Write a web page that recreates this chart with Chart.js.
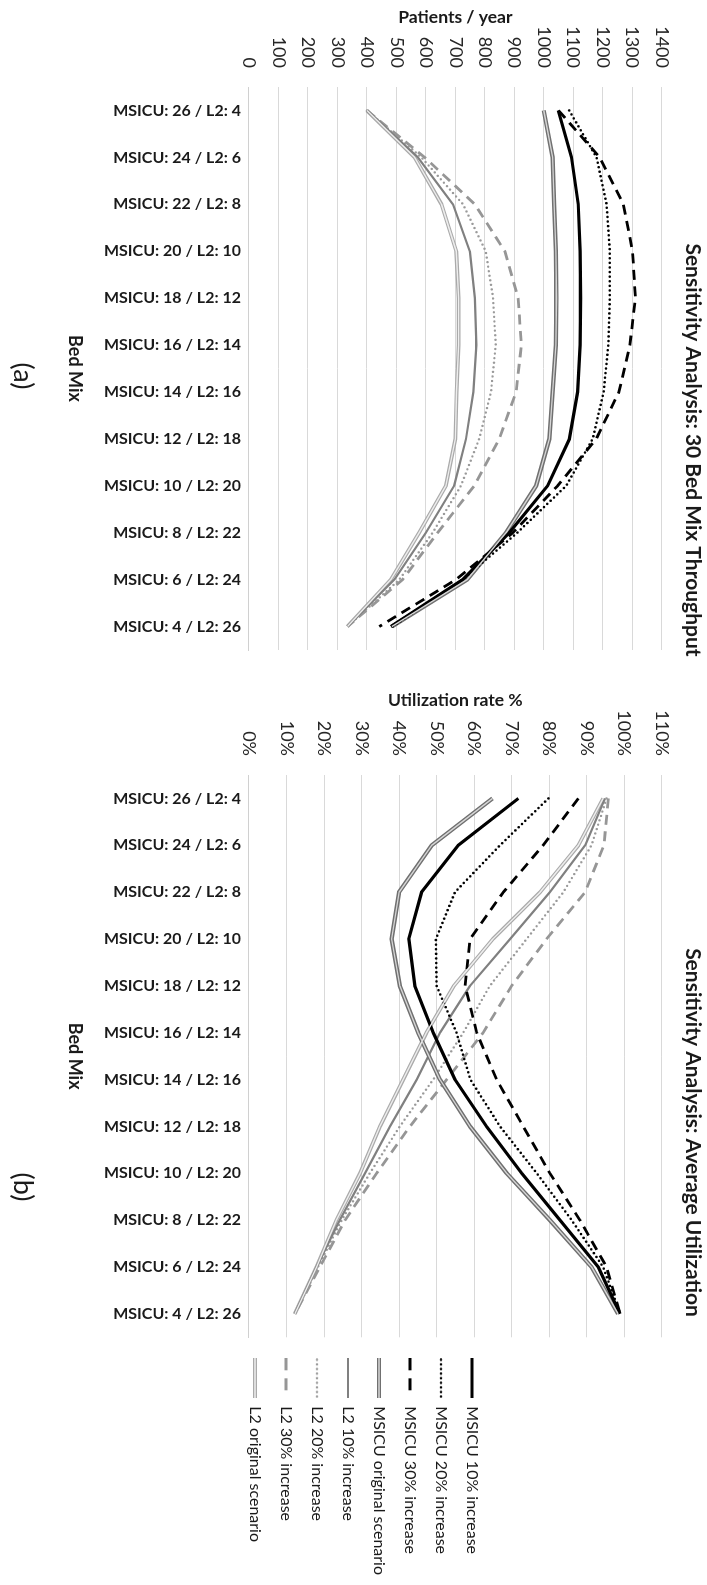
<!DOCTYPE html>
<html>
<head>
<meta charset="utf-8">
<script src="https://cdn.jsdelivr.net/npm/chart.js@4/dist/chart.umd.min.js"></script>
<style>
  html, body { margin: 0; padding: 0; background: #fff; width: 707px; height: 1585px; overflow: hidden; }
  /* the figure is laid out landscape and turned a quarter turn clockwise */
  #sheet { position: absolute; left: 0; top: 0; width: 1585px; height: 707px;
           transform-origin: 0 0; transform: translate(707px, 0) rotate(90deg); }
  #sheet canvas { position: absolute; top: 0; }
  .panel-tag { position: absolute; font-family: Lato, sans-serif; font-size: 27px; color: #1a1a1a;
               transform: translate(-50%, -50%); white-space: nowrap; line-height: 1; }
</style>
</head>
<body>
<div id="sheet">
  <canvas id="throughput" width="900" height="707" style="left:0px"></canvas>
  <canvas id="utilization" width="905" height="707" style="left:680px"></canvas>
  <div class="panel-tag" style="left:376px; top:682px">(a)</div>
  <div class="panel-tag" style="left:1187px; top:682px">(b)</div>
</div>
<script>
// ---- categories -------------------------------------------------------
const bedMix = [
  'MSICU: 26 / L2: 4', 'MSICU: 24 / L2: 6', 'MSICU: 22 / L2: 8', 'MSICU: 20 / L2: 10',
  'MSICU: 18 / L2: 12', 'MSICU: 16 / L2: 14', 'MSICU: 14 / L2: 16', 'MSICU: 12 / L2: 18',
  'MSICU: 10 / L2: 20', 'MSICU: 8 / L2: 22', 'MSICU: 6 / L2: 24', 'MSICU: 4 / L2: 26'
];

const seriesLabels = [
  'MSICU 10% increase', 'MSICU 20% increase', 'MSICU 30% increase', 'MSICU original scenario',
  'L2 10% increase', 'L2 20% increase', 'L2 30% increase', 'L2 original scenario'
];

// ---- (a) throughput, patients per year ---------------------------------
const thrMsicu10   = [1049, 1094, 1117, 1123, 1125, 1123, 1115, 1087, 1013, 883, 725, 481];
const thrMsicu20   = [1086, 1179, 1213, 1224, 1224, 1219, 1203, 1166, 1076, 910, 725, 487];
const thrMsicu30   = [1050, 1190, 1270, 1301, 1311, 1292, 1255, 1178, 1047, 895, 702, 442];
const thrMsicuOrig = [1000, 1030, 1035, 1041, 1043, 1041, 1030, 1019, 974, 872, 740, 485];
const thrL2_10     = [400, 573, 692, 749, 766, 771, 761, 736, 696, 600, 493, 334];
const thrL2_20     = [400, 585, 726, 803, 828, 837, 821, 781, 719, 623, 510, 334];
const thrL2_30     = [400, 596, 766, 868, 913, 924, 906, 849, 764, 640, 521, 334];
const thrL2Orig    = [400, 562, 653, 703, 711, 711, 704, 700, 668, 577, 481, 334];

// ---- (b) average utilization, percent ----------------------------------
const utilMsicu10   = [71.8, 55.8, 46.0, 42.6, 44.2, 49.1, 54.9, 63.3, 72.7, 82.9, 93.1, 98.9];
const utilMsicu20   = [79.8, 66.9, 54.9, 49.8, 50.0, 55.3, 59.0, 66.9, 76.7, 86.0, 94.4, 98.9];
const utilMsicu30   = [87.8, 78.4, 67.8, 58.9, 57.6, 60.7, 66.0, 73.1, 80.2, 88.2, 95.3, 98.9];
const utilMsicuOrig = [64.9, 48.7, 40.0, 38.0, 40.2, 45.1, 50.9, 58.9, 68.7, 80.2, 91.3, 98.4];
const utilL2_10     = [94.9, 89.6, 80.2, 69.6, 58.9, 50.9, 44.7, 37.6, 30.9, 24.2, 18.0, 12.2];
const utilL2_20     = [95.3, 91.3, 83.8, 74.0, 64.2, 57.1, 49.1, 40.2, 32.2, 24.7, 18.4, 12.2];
const utilL2_30     = [95.8, 94.6, 89.6, 79.3, 70.0, 62.4, 52.7, 42.9, 34.0, 25.6, 18.9, 12.2];
const utilL2Orig    = [94.4, 87.8, 77.6, 65.0, 54.6, 47.3, 41.1, 34.9, 29.6, 23.3, 18.0, 12.2];

// ---- line styles (same order as seriesLabels) ---------------------------
const lineStyles = [
  { color: '#000000', width: 3.2, dash: [] },
  { color: '#000000', width: 2.6, dash: [0, 4.6], cap: 'round' },
  { color: '#000000', width: 2.8, dash: [10, 6.5] },
  { color: '#707070', width: 4.2, dash: [], inner: '#d6d6d6', innerWidth: 1.4 },
  { color: '#808080', width: 2.2, dash: [] },
  { color: '#9a9a9a', width: 2.4, dash: [0, 4.6], cap: 'round' },
  { color: '#969696', width: 2.8, dash: [10, 6.5] },
  { color: '#aaaaaa', width: 3.8, dash: [], inner: '#eeeeee', innerWidth: 1.4 }
];

Chart.defaults.font.family = "Lato, 'Open Sans', sans-serif";
Chart.defaults.color = '#1a1a1a';

function buildDatasets(values) {
  const sets = [];
  values.forEach((data, i) => {
    const s = lineStyles[i];
    sets.push({
      label: seriesLabels[i], data, styleIndex: i,
      borderColor: s.color, backgroundColor: s.color, borderWidth: s.width,
      borderDash: s.dash, borderCapStyle: s.cap || 'butt', borderJoinStyle: 'round',
      pointRadius: 0, pointHoverRadius: 0, tension: 0, fill: false, order: 1
    });
    if (s.inner) {
      // light core stroke over the wide one gives the double-line look
      sets.push({
        label: seriesLabels[i] + ' core', data, isCore: true,
        borderColor: s.inner, borderWidth: s.innerWidth, borderJoinStyle: 'round',
        pointRadius: 0, pointHoverRadius: 0, tension: 0, fill: false, order: 0
      });
    }
  });
  return sets;
}

function swatch(s) {
  const c = document.createElement('canvas');
  c.width = 40; c.height = 8;
  const g = c.getContext('2d');
  g.strokeStyle = s.color; g.lineWidth = s.width; g.lineCap = s.cap || 'butt';
  g.setLineDash(s.dash.length && !s.cap ? [12, 8] : s.dash);
  g.beginPath(); g.moveTo(s.cap ? 1.5 : 0, 4); g.lineTo(s.cap ? 38.5 : 40, 4); g.stroke();
  if (s.inner) {
    g.setLineDash([]); g.strokeStyle = s.inner; g.lineWidth = s.innerWidth;
    g.beginPath(); g.moveTo(0, 4); g.lineTo(40, 4); g.stroke();
  }
  return c;
}
const legendSwatches = lineStyles.map(swatch);

function baseOptions(cfg) {
  return {
    responsive: false, animation: false, devicePixelRatio: 1,
    layout: { padding: { left: 0, right: 0, top: 0, bottom: 20 } },
    plugins: {
      tooltip: { enabled: false },
      title: {
        display: true, text: cfg.title, color: '#1a1a1a',
        font: { size: 21, weight: 'bold' }, padding: { top: 1.4, bottom: 18.7 }
      },
      legend: cfg.legend
    },
    scales: {
      x: {
        type: 'category', offset: true,
        grid: { display: false },
        border: { display: true, color: '#d0d0d0', width: 1 },
        ticks: { autoSkip: false, minRotation: 90, maxRotation: 90, padding: 0,
                 color: '#1a1a1a', font: { size: 16, weight: 'bold' } },
        title: { display: true, text: 'Bed Mix', color: '#1a1a1a',
                 font: { size: 18, weight: 'bold' }, padding: { top: 0, bottom: 44.2 } },
        afterFit: s => { s.height = 229; }
      },
      y: {
        min: cfg.min, max: cfg.max,
        ticks: { stepSize: cfg.step, padding: 19, color: '#262626', font: { size: 18 },
                 callback: cfg.tickFormat },
        grid: { color: '#d9d9d9', lineWidth: 1, drawTicks: false },
        border: { display: false },
        title: { display: true, text: cfg.axisTitle, color: '#1a1a1a',
                 font: { size: 17.5, weight: 'bold' }, padding: { top: cfg.axisTitlePad, bottom: 0 } },
        afterFit: s => { s.width = cfg.yWidth; }
      },
      spare: {
        position: 'right', display: true,
        grid: { display: false }, border: { display: false }, ticks: { display: false },
        afterFit: s => { s.width = cfg.spareWidth; }
      }
    }
  };
}

new Chart(document.getElementById('throughput'), {
  type: 'line',
  data: {
    labels: bedMix,
    datasets: buildDatasets([thrMsicu10, thrMsicu20, thrMsicu30, thrMsicuOrig,
                             thrL2_10, thrL2_20, thrL2_30, thrL2Orig])
  },
  options: baseOptions({
    title: 'Sensitivity Analysis: 30 Bed Mix Throughput',
    legend: { display: false },
    min: 0, max: 1400, step: 100, tickFormat: v => String(v),
    axisTitle: 'Patients / year', axisTitlePad: 6.5,
    yWidth: 87, spareWidth: 250
  })
});

new Chart(document.getElementById('utilization'), {
  type: 'line',
  data: {
    labels: bedMix,
    datasets: buildDatasets([utilMsicu10, utilMsicu20, utilMsicu30, utilMsicuOrig,
                             utilL2_10, utilL2_20, utilL2_30, utilL2Orig])
  },
  options: baseOptions({
    title: 'Sensitivity Analysis: Average Utilization',
    legend: {
      display: true, position: 'right', align: 'center', maxWidth: 246,
      labels: {
        usePointStyle: true, pointStyleWidth: 40, padding: 15,
        color: '#1a1a1a', font: { size: 16 },
        generateLabels: chart => chart.data.datasets
          .map((ds, i) => ({ ds, i }))
          .filter(o => !o.ds.isCore)
          .map(o => ({
            text: o.ds.label, datasetIndex: o.i, hidden: false,
            pointStyle: legendSwatches[o.ds.styleIndex],
            lineWidth: 0, strokeStyle: 'rgba(0,0,0,0)', fillStyle: 'rgba(0,0,0,0)', fontColor: '#1a1a1a'
          }))
      }
    },
    min: 0, max: 110, step: 10, tickFormat: v => v + '%',
    axisTitle: 'Utilization rate %', axisTitlePad: 9.5,
    yWidth: 95, spareWidth: 6
  })
});
</script>
</body>
</html>
